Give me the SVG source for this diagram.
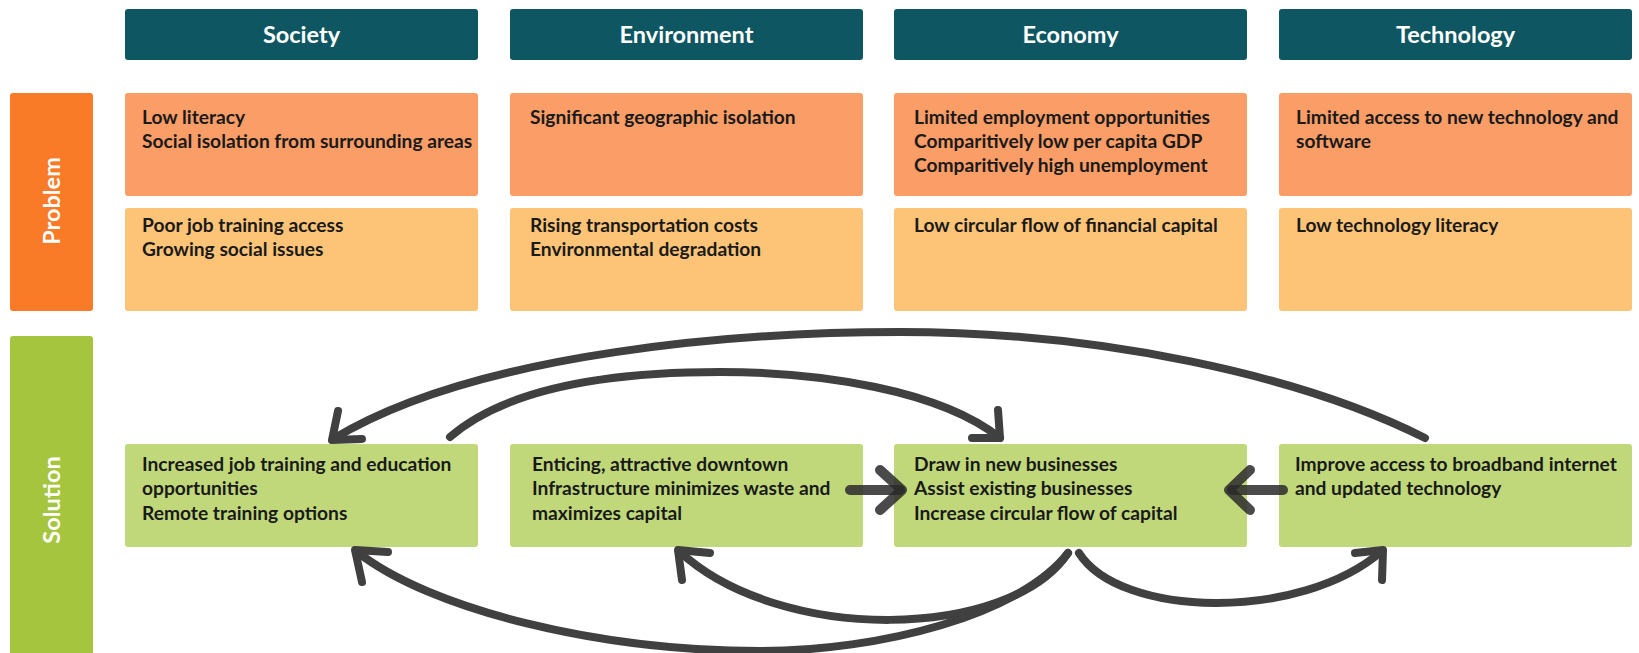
<svg xmlns="http://www.w3.org/2000/svg" width="1639" height="653" viewBox="0 0 1639 653">
<style>
.hdr{fill:#0e5661}
.hdrt{fill:#ffffff;font-family:Lato,"Open Sans",sans-serif;font-weight:bold;font-size:23.5px;text-anchor:middle}
.p1{fill:#fa9d67}
.p2{fill:#fdc477}
.sol{fill:#c0d87a}
.barP{fill:#f97a27}
.barS{fill:#a6c53f}
.bart{fill:#ffffff;font-family:Lato,"Open Sans",sans-serif;font-weight:bold;font-size:23.5px;text-anchor:middle}
.t{fill:#1a1a1a;font-family:Lato,"Open Sans",sans-serif;font-weight:bold;font-size:19.2px}
.c{fill:none;stroke:#404040;stroke-width:8;stroke-linecap:round;stroke-linejoin:round}
.s{fill:none;stroke:#2a2a2a;stroke-opacity:0.85;stroke-width:10;stroke-linecap:round;stroke-linejoin:round}
</style>
<rect width="1639" height="653" fill="#ffffff"/>

<g id="bar-problem">
<rect class="barP" x="10" y="93" width="83" height="218" rx="3"/>
<text class="bart" transform="translate(60,201) rotate(-90)">Problem</text>
</g>
<g id="bar-solution">
<rect class="barS" x="10" y="336" width="83" height="330" rx="3"/>
<text class="bart" transform="translate(60,500) rotate(-90)">Solution</text>
</g>

<g id="hdr-society"><rect class="hdr" x="125" y="9" width="353" height="51" rx="3"/><text class="hdrt" x="301.5" y="43">Society</text></g>
<g id="hdr-environment"><rect class="hdr" x="510" y="9" width="353" height="51" rx="3"/><text class="hdrt" x="686.5" y="43">Environment</text></g>
<g id="hdr-economy"><rect class="hdr" x="894" y="9" width="353" height="51" rx="3"/><text class="hdrt" x="1070.5" y="43">Economy</text></g>
<g id="hdr-technology"><rect class="hdr" x="1279" y="9" width="353" height="51" rx="3"/><text class="hdrt" x="1455.5" y="43">Technology</text></g>

<g id="prob1-society"><rect class="p1" x="125" y="93" width="353" height="103" rx="3"/>
<text class="t"><tspan x="142" y="124">Low literacy</tspan><tspan x="142" y="148">Social isolation from surrounding areas</tspan></text></g>
<g id="prob1-environment"><rect class="p1" x="510" y="93" width="353" height="103" rx="3"/>
<text class="t"><tspan x="530" y="124">Significant geographic isolation</tspan></text></g>
<g id="prob1-economy"><rect class="p1" x="894" y="93" width="353" height="103" rx="3"/>
<text class="t"><tspan x="914" y="124">Limited employment opportunities</tspan><tspan x="914" y="148">Comparitively low per capita GDP</tspan><tspan x="914" y="172">Comparitively high unemployment</tspan></text></g>
<g id="prob1-technology"><rect class="p1" x="1279" y="93" width="353" height="103" rx="3"/>
<text class="t"><tspan x="1296" y="124">Limited access to new technology and</tspan><tspan x="1296" y="148">software</tspan></text></g>

<g id="prob2-society"><rect class="p2" x="125" y="208" width="353" height="103" rx="3"/>
<text class="t"><tspan x="142" y="232">Poor job training access</tspan><tspan x="142" y="256">Growing social issues</tspan></text></g>
<g id="prob2-environment"><rect class="p2" x="510" y="208" width="353" height="103" rx="3"/>
<text class="t"><tspan x="530" y="232">Rising transportation costs</tspan><tspan x="530" y="256">Environmental degradation</tspan></text></g>
<g id="prob2-economy"><rect class="p2" x="894" y="208" width="353" height="103" rx="3"/>
<text class="t"><tspan x="914" y="232">Low circular flow of financial capital</tspan></text></g>
<g id="prob2-technology"><rect class="p2" x="1279" y="208" width="353" height="103" rx="3"/>
<text class="t"><tspan x="1296" y="232">Low technology literacy</tspan></text></g>

<g id="sol-society"><rect class="sol" x="125" y="444" width="353" height="103" rx="3"/>
<text class="t"><tspan x="142" y="471">Increased job training and education</tspan><tspan x="142" y="495">opportunities</tspan><tspan x="142" y="520">Remote training options</tspan></text></g>
<g id="sol-environment"><rect class="sol" x="510" y="444" width="353" height="103" rx="3"/>
<text class="t"><tspan x="532" y="471">Enticing, attractive downtown</tspan><tspan x="532" y="495">Infrastructure minimizes waste and</tspan><tspan x="532" y="520">maximizes capital</tspan></text></g>
<g id="sol-economy"><rect class="sol" x="894" y="444" width="353" height="103" rx="3"/>
<text class="t"><tspan x="914" y="471">Draw in new businesses</tspan><tspan x="914" y="495">Assist existing businesses</tspan><tspan x="914" y="520">Increase circular flow of capital</tspan></text></g>
<g id="sol-technology"><rect class="sol" x="1279" y="444" width="353" height="103" rx="3"/>
<text class="t"><tspan x="1295" y="471">Improve access to broadband internet</tspan><tspan x="1295" y="495">and updated technology</tspan></text></g>

<g id="connectors">
<g id="c-tech-society">
<path class="c" d="M1425,438 C1300,375 1100,332 900,332 C750,332 480,350 333,439"/>
<path class="c" d="M338,411 L332,440 L362,439"/>
</g>
<g id="c-society-economy">
<path class="c" d="M450,437 C510,385 620,372 720,372 C820,372 940,390 1000,438"/>
<path class="c" d="M998,410 L1000,438 L972,438"/>
</g>
<g id="c-env-economy">
<path class="s" d="M850,490 L900,490"/>
<path class="s" d="M880,470 L902,490 L880,510"/>
</g>
<g id="c-tech-economy">
<path class="s" d="M1283,490 L1232,490"/>
<path class="s" d="M1250,470 L1229,490 L1250,510"/>
</g>
<g id="c-economy-society">
<path class="c" d="M1068,553 C1020,615 880,651 760,651 C600,651 430,610 356,551"/>
<path class="c" d="M388,552 L355,550 L362,582"/>
</g>
<g id="c-economy-environment">
<path class="c" d="M1068,553 C1010,640 780,645 679,551"/>
<path class="c" d="M710,553 L678,550 L682,580"/>
</g>
<g id="c-economy-technology">
<path class="c" d="M1079,553 C1120,618 1300,622 1382,551"/>
<path class="c" d="M1355,553 L1383,550 L1382,580"/>
</g>
</g>
</svg>
